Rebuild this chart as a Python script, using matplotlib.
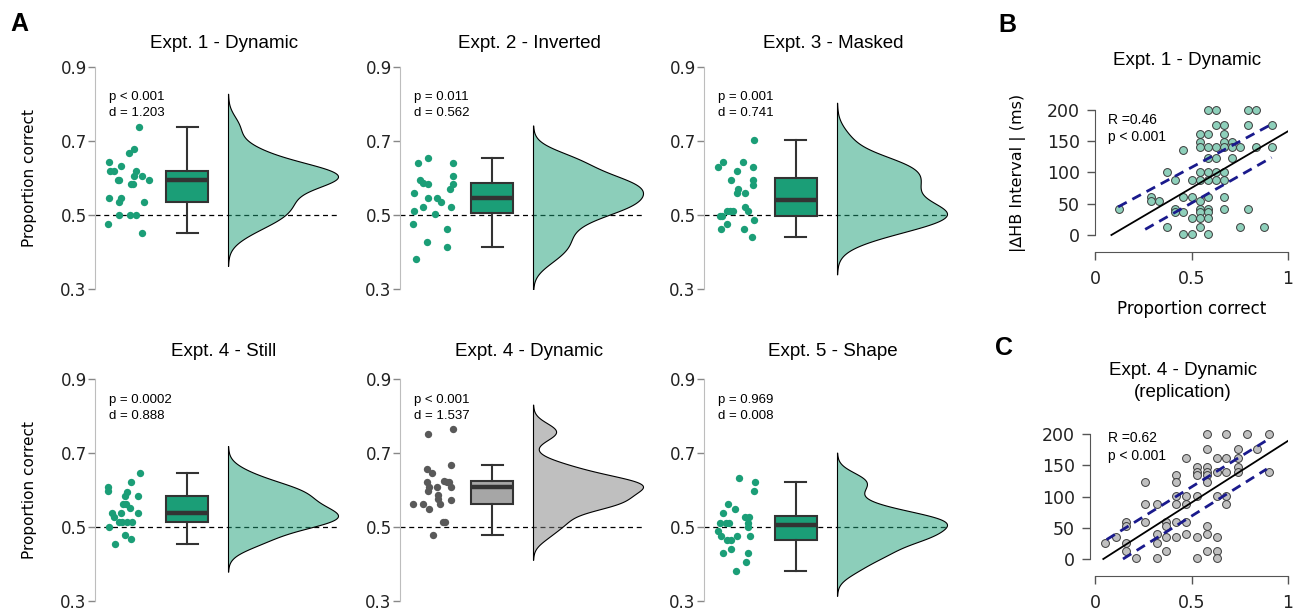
import numpy as np
import matplotlib.pyplot as plt
from matplotlib.colors import to_rgba

W, H = 1299, 612

green = '#1b9e77'
grey_dot = '#595959'
grey_box = '#a6a6a6'
grey_kde = '#808080'
edge = '#333333'

titles = ['Expt. 1 - Dynamic', 'Expt. 2 - Inverted', 'Expt. 3 - Masked',
          'Expt. 4 - Still', 'Expt. 4 - Dynamic', 'Expt. 5 - Shape']
p_text = ['p < 0.001', 'p = 0.011', 'p = 0.001', 'p = 0.0002', 'p < 0.001', 'p = 0.969']
d_text = ['d = 1.203', 'd = 0.562', 'd = 0.741', 'd = 0.888', 'd = 1.537', 'd = 0.008']

# proportion correct, one dot per participant, plus the sideways jitter of
# each dot in the strip (1 unit = 100 px from the axis line)
e1_dyn = [0.739, 0.678, 0.667, 0.642, 0.632, 0.618, 0.618, 0.618, 0.606, 0.606,
          0.595, 0.595, 0.595, 0.583, 0.583, 0.546, 0.546, 0.535, 0.535,
          0.500, 0.500, 0.500, 0.475, 0.451]
e1_dyn_jit = [0.44, 0.39, 0.34, 0.14, 0.26, 0.15, 0.19, 0.41, 0.39, 0.47,
              0.23, 0.24, 0.54, 0.36, 0.38, 0.14, 0.26, 0.24, 0.49,
              0.24, 0.35, 0.41, 0.13, 0.47]

e2_inv = [0.654, 0.641, 0.641, 0.606, 0.595, 0.587, 0.583, 0.583, 0.570, 0.559,
          0.547, 0.547, 0.534, 0.522, 0.522, 0.511, 0.503, 0.475, 0.463, 0.428,
          0.414, 0.380]
e2_inv_jit = [0.28, 0.18, 0.53, 0.53, 0.20, 0.23, 0.28, 0.53, 0.50, 0.14,
              0.28, 0.37, 0.41, 0.23, 0.51, 0.14, 0.35, 0.13, 0.47, 0.27,
              0.47, 0.16]

e3_mask = [0.703, 0.642, 0.642, 0.631, 0.631, 0.619, 0.595, 0.595, 0.581, 0.570,
           0.559, 0.559, 0.522, 0.511, 0.511, 0.511, 0.511, 0.498, 0.498, 0.487,
           0.475, 0.462, 0.462, 0.440]
e3_mask_jit = [0.50, 0.19, 0.39, 0.14, 0.49, 0.33, 0.27, 0.49, 0.49, 0.34,
               0.33, 0.41, 0.41, 0.23, 0.29, 0.44, 0.26, 0.16, 0.18, 0.50,
               0.23, 0.17, 0.40, 0.48]

e4_still = [0.645, 0.621, 0.609, 0.597, 0.595, 0.584, 0.584, 0.562, 0.562, 0.551,
            0.539, 0.539, 0.538, 0.526, 0.514, 0.514, 0.514, 0.514, 0.501, 0.478,
            0.467, 0.453]
e4_still_jit = [0.45, 0.36, 0.13, 0.13, 0.32, 0.30, 0.43, 0.28, 0.31, 0.35,
                0.17, 0.26, 0.43, 0.19, 0.24, 0.27, 0.32, 0.37, 0.14, 0.30,
                0.36, 0.20]

e4_dyn = [0.764, 0.751, 0.668, 0.657, 0.645, 0.625, 0.621, 0.621, 0.621, 0.609,
          0.609, 0.609, 0.597, 0.586, 0.575, 0.574, 0.561, 0.561, 0.561, 0.549,
          0.514, 0.514, 0.478]
e4_dyn_jit = [0.53, 0.28, 0.51, 0.27, 0.32, 0.44, 0.47, 0.49, 0.27, 0.29,
              0.37, 0.51, 0.28, 0.38, 0.38, 0.51, 0.13, 0.23, 0.40, 0.29,
              0.43, 0.45, 0.33]

e5_shape = [0.633, 0.621, 0.597, 0.562, 0.549, 0.537, 0.526, 0.526, 0.512, 0.512,
            0.512, 0.512, 0.501, 0.489, 0.476, 0.476, 0.476, 0.465, 0.465, 0.441,
            0.429, 0.429, 0.406, 0.382]
e5_shape_jit = [0.35, 0.51, 0.50, 0.24, 0.31, 0.19, 0.41, 0.45, 0.44, 0.16,
                0.22, 0.25, 0.44, 0.14, 0.17, 0.33, 0.46, 0.23, 0.27, 0.27,
                0.19, 0.44, 0.42, 0.32]

values = [e1_dyn, e2_inv, e3_mask, e4_still, e4_dyn, e5_shape]
jitter = [e1_dyn_jit, e2_inv_jit, e3_mask_jit, e4_still_jit, e4_dyn_jit, e5_shape_jit]
is_grey = [False, False, False, False, True, False]

# panel B: proportion correct vs |delta HB interval| (ms)
b_x = [0.583, 0.625, 0.792, 0.833,
       0.625, 0.667, 0.792, 0.917,
       0.542, 0.583, 0.667,
       0.542, 0.667, 0.708,
       0.542, 0.583, 0.625, 0.667, 0.708, 0.750, 0.833, 0.917,
       0.458,
       0.583, 0.625, 0.708,
       0.375, 0.542, 0.583, 0.625, 0.667,
       0.417, 0.500, 0.542, 0.583, 0.625, 0.667,
       0.292, 0.458, 0.500, 0.583, 0.667,
       0.292, 0.333, 0.542,
       0.125, 0.417, 0.542, 0.583, 0.667, 0.792,
       0.417, 0.458, 0.542, 0.583,
       0.500, 0.542, 0.583,
       0.375, 0.542, 0.750, 0.875,
       0.458, 0.500, 0.583]
b_y = [200] * 4 + [176] * 4 + [161] * 3 + [148] * 3 + [140] * 8 + [136] \
    + [123] * 3 + [101] * 5 + [88] * 6 + [61] * 5 + [54] * 3 + [41] * 6 \
    + [36] * 4 + [27] * 3 + [13] * 4 + [1] * 3
b_fit_x, b_fit_y = [0.085, 1.0], [0, 166]
b_hi_x, b_hi_y = [0.12, 0.92], [45, 178]
b_lo_x, b_lo_y = [0.26, 0.915], [9, 124]

# panel C: replication
c_x = [0.58, 0.68, 0.79, 0.90,
       0.58, 0.74, 0.84,
       0.47, 0.63, 0.68, 0.74,
       0.53, 0.58, 0.74,
       0.53, 0.58, 0.63, 0.68, 0.74, 0.90,
       0.42, 0.53, 0.58,
       0.26, 0.42, 0.58,
       0.42, 0.47, 0.53, 0.63, 0.68,
       0.26, 0.32, 0.42, 0.47, 0.68,
       0.16, 0.26, 0.37, 0.42, 0.47,
       0.16, 0.37, 0.58,
       0.32, 0.47, 0.58,
       0.11, 0.37, 0.42, 0.53, 0.63,
       0.05, 0.16, 0.32,
       0.16, 0.37, 0.58, 0.63,
       0.21, 0.32, 0.53, 0.63]
c_y = [200] * 4 + [176] * 3 + [161] * 4 + [147] * 3 + [140] * 6 + [135] * 3 \
    + [123] * 3 + [101] * 5 + [88] * 5 + [60] * 5 + [53] * 3 + [40] * 3 \
    + [35] * 5 + [25] * 3 + [13] * 4 + [2] * 4
c_fit_x, c_fit_y = [0.043, 1.0], [0, 189]
c_hi_x, c_hi_y = [0.06, 0.885], [31, 189]
c_lo_x, c_lo_y = [0.145, 0.89], [0, 144]


def rect(x0, y0, w, h):
    return [x0 / W, 1 - (y0 + h) / H, w / W, h / H]


def half_kde(vals):
    v = np.asarray(vals)
    q75, q25 = np.percentile(v, [75, 25])
    bw = 0.9 * min(v.std(ddof=1), (q75 - q25) / 1.34) * len(v) ** -0.2
    grid = np.linspace(v.min() - 3 * bw, v.max() + 3 * bw, 400)
    dens = np.exp(-0.5 * ((grid[:, None] - v[None, :]) / bw) ** 2).sum(axis=1)
    return grid, dens / dens.max()


plt.rcParams['font.family'] = 'DejaVu Sans'
fig = plt.figure(figsize=(W / 100, H / 100), dpi=100)

col_x = [95, 400, 704]
row_y = [67, 379]
title_off = [24, 27]
text_off = [(30, 46), (21, 37)]

for i in range(6):
    r, c = divmod(i, 3)
    ax = fig.add_axes(rect(col_x[c], row_y[r], 245, 222))
    vals = values[i]
    dot_c = grey_dot if is_grey[i] else green
    box_c = grey_box if is_grey[i] else green
    kde_c = grey_kde if is_grey[i] else green

    ax.axhline(0.5, color='black', lw=0.9, ls=(0, (4, 3)), zorder=1)
    ax.scatter(jitter[i], vals, s=28, color=dot_c, lw=0, zorder=3)
    ax.boxplot(vals, positions=[0.92], widths=0.42, patch_artist=True,
               showfliers=False, whis=1.5, capwidths=0.21,
               boxprops=dict(facecolor=box_c, edgecolor=edge, lw=1.5),
               medianprops=dict(color=edge, lw=3.2),
               whiskerprops=dict(color=edge, lw=1.5),
               capprops=dict(color=edge, lw=1.5))
    grid, dens = half_kde(vals)
    ax.fill_betweenx(grid, 1.33, 1.33 + 1.1 * dens, facecolor=to_rgba(kde_c, 0.5),
                     edgecolor='black', lw=0.8, zorder=2)

    ax.set_xlim(0, 2.45)
    ax.set_ylim(0.3, 0.9)
    ax.set_yticks([0.3, 0.5, 0.7, 0.9])
    ax.set_xticks([])
    for s in ['top', 'right', 'bottom']:
        ax.spines[s].set_visible(False)
    ax.spines['left'].set_color('#bdbdbd')
    ax.spines['left'].set_bounds(0.3, 0.9)
    ax.tick_params(axis='y', length=5, width=1, color='#888888', pad=1,
                   labelsize=12, labelcolor='#222222')
    ax.patch.set_alpha(0)

    ax.text(0.527, 1 + title_off[r] / 222, titles[i], ha='center', va='center',
            transform=ax.transAxes, fontsize=13.5, family='Liberation Sans')
    t1, t2 = text_off[r]
    ax.text(0.058, 1 - t1 / 222, p_text[i], ha='left', va='center',
            transform=ax.transAxes, fontsize=9.5, family='Liberation Sans')
    ax.text(0.058, 1 - t2 / 222, d_text[i], ha='left', va='center',
            transform=ax.transAxes, fontsize=9.5, family='Liberation Sans')
    if c == 0:
        ax.text(-65 / 245, 0.5, 'Proportion correct', rotation=90, ha='center',
                va='center', transform=ax.transAxes, fontsize=11)

# scatter panels
scatter_sets = [
    (103.75, b_x, b_y, '#8ed0bb', (b_fit_x, b_fit_y), (b_hi_x, b_hi_y), (b_lo_x, b_lo_y),
     ('R =0.46', 184), ('p < 0.001', 157)),
    (427.75, c_x, c_y, '#c0c0c0', (c_fit_x, c_fit_y), (c_hi_x, c_hi_y), (c_lo_x, c_lo_y),
     ('R =0.62', 194), ('p < 0.001', 165)),
]
for k, (y0, xs, ys, fc, fit, hi, lo, l1, l2) in enumerate(scatter_sets):
    ax = fig.add_axes(rect(1095, y0, 193, 137.5))
    ax.scatter(xs, ys, s=32, facecolor=fc, edgecolor='#3a3a3a', lw=0.7,
               zorder=2, clip_on=False)
    ax.plot(*fit, color='black', lw=1.3, zorder=4)
    for band in (hi, lo):
        ax.plot(*band, color='#1a1a8c', lw=2, ls=(0, (3.5, 2.3)), zorder=3)
    ax.text(0.067, l1[1], l1[0], ha='left', va='center', fontsize=10,
            family='Liberation Sans')
    ax.text(0.067, l2[1], l2[0], ha='left', va='center', fontsize=10,
            family='Liberation Sans')

    ax.set_xlim(0, 1)
    ax.set_ylim(-10, 210)
    ax.set_xticks([0, 0.5, 1])
    ax.set_xticklabels(['0', '0.5', '1'])
    ax.set_yticks([0, 50, 100, 150, 200])
    for s in ['top', 'right']:
        ax.spines[s].set_visible(False)
    ax.spines['left'].set_bounds(0, 200)
    ax.spines['bottom'].set_bounds(0, 1)
    ax.spines['bottom'].set_position(('outward', 7.7))
    if k == 1:
        ax.spines['left'].set_position(('outward', 3.6))
    for s in ['left', 'bottom']:
        ax.spines[s].set_color('#555555')
    ax.tick_params(length=6, width=1, color='#555555', labelsize=12.5,
                   labelcolor='#222222', pad=5)
    ax.tick_params(axis='x', pad=7)
    ax.patch.set_alpha(0)

    if k == 0:
        ax.set_title('Expt. 1 - Dynamic', x=0.477, y=1.22, fontsize=13.5,
                     family='Liberation Sans')
        ax.set_xlabel('Proportion correct', fontsize=12, labelpad=9)
        ax.text(-0.399, 0.5, '|\u2206HB Interval | (ms)', rotation=90, ha='center',
                va='center', transform=ax.transAxes, fontsize=11.5)
    else:
        ax.text(0.456, 1.336, 'Expt. 4 - Dynamic\n(replication)', ha='center',
                va='center', transform=ax.transAxes, fontsize=13.5,
                family='Liberation Sans', linespacing=1.45)

for letter, (lx, ly) in zip('ABC', [(19, 24), (1007, 25), (1004, 348)]):
    fig.text(lx / W, 1 - ly / H, letter, ha='center', va='center', fontsize=18,
             fontweight='bold', family='Liberation Sans')

fig.savefig('out.png', dpi=100)
